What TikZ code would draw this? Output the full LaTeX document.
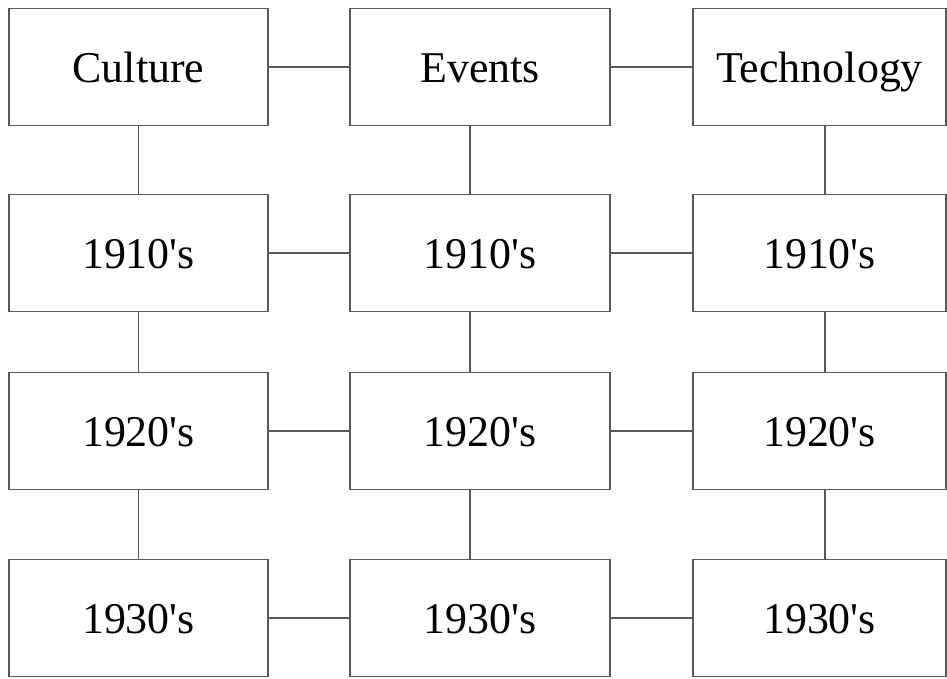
\documentclass[tikz,border=0pt]{standalone}
\usepackage{fontspec}
\setmainfont{Liberation Serif}[Ligatures=TeXOff]
\usetikzlibrary{positioning}
\tikzset{
  cell/.style={draw=black!65, line width=0.7pt, minimum height=2.34cm, inner sep=0pt,
    text height=0.72cm, text depth=0.1cm, font=\fontsize{25}{30}\selectfont},
  link/.style={draw=black!65, line width=0.6pt}
}

\begin{document}
\begin{tikzpicture}[x=0.02cm, y=-0.02cm]
          \useasboundingbox (0,0) rectangle (947,679);
          % headings
          \node[cell, minimum width=5.18cm] (c1) at (138.5,67) {Culture};
          \node[cell, minimum width=5.2cm] (e1) at (480,67) {Events};
          \node[cell, minimum width=5.06cm] (t1) at (819.5,67) {Technology};
          % decades
          \foreach \y/\n/\yr in {253/2/1910, 431/3/1920, 618/4/1930} {
            \node[cell, minimum width=5.18cm] (c\n) at (138.5,\y) {\yr's};
            \node[cell, minimum width=5.2cm] (e\n) at (480,\y) {\yr's};
            \node[cell, minimum width=5.06cm] (t\n) at (819.5,\y) {\yr's};
          }
          \foreach \n in {1,...,4} {
            \draw[link] (c\n.east) -- (e\n.west);
            \draw[link] (e\n.east) -- (t\n.west);
          }
          \foreach \a/\b in {1/2, 2/3, 3/4} {
            \draw[link] (c\a.south) -- (c\b.north);
            \draw[link] ([xshift=-0.2cm]e\a.south) -- ([xshift=-0.2cm]e\b.north);
            \draw[link] ([xshift=0.11cm]t\a.south) -- ([xshift=0.11cm]t\b.north);
          }
        \end{tikzpicture}
\end{document}
